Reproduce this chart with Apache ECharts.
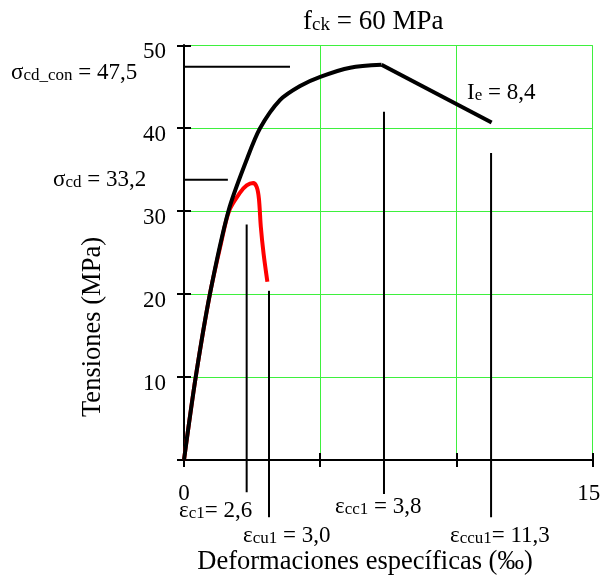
<!DOCTYPE html>
<html>
<head>
<meta charset="utf-8">
<script src="https://cdn.jsdelivr.net/npm/echarts@6/dist/echarts.min.js"></script>
<style>
  html, body { margin: 0; padding: 0; background: #fff; }
  #container { width: 601px; height: 576px; }
</style>
</head>
<body>
<div id="container"></div>
<script>
// curves: [strain ‰, stress MPa]
var confinedCurve = [[0, 0], [0.43, 10], [0.95, 20], [1.63, 30], [2.3, 36.2], [2.79, 40], [3.52, 43.4], [4.26, 45.1], [5, 46.2], [6.1, 47.3], [7.25, 47.65]];
var confinedBranch = [[7.25, 47.65], [11.29, 40.7]];
var plainCurve = [[0, 0], [0.43, 10], [0.95, 20], [1.35, 26], [1.65, 30], [2.05, 32.2], [2.3, 33.1], [2.54, 33.4], [2.67, 32.9], [2.75, 31.5], [2.82, 28.1], [2.92, 24.9], [3.06, 21.5]];

// vertical marker lines (strain) and horizontal marker lines (stress)
var strainMarks = [2.3, 3.12, 7.34, 11.27];
var strainMarkTop = [28.4, 20.4, 42.0, 37.0];
var strainMarkBottom = [-3.9, -6.9, -4.1, -6.9];
var stressMarks = [47.4, 33.8];
var stressMarkFrom = [-0.67, -0.77];
var stressMarkTo = [3.89, 1.61];

var xLabelsShown = [0, 15];
var yLabelsShown = [10, 20, 30, 40, 50];

var serif = "Liberation Serif";
var green = "#3ef03e";

var dom = document.getElementById("container");
var myChart = echarts.init(dom);

function markSeries(points) {
  return {
    type: "line",
    data: points,
    symbol: "none",
    clip: false,
    silent: true,
    lineStyle: { color: "#000", width: 2 },
    z: 1,
  };
}

var series = [];
for (var i = 0; i < strainMarks.length; i++) {
  series.push(markSeries([[strainMarks[i], strainMarkTop[i]], [strainMarks[i], strainMarkBottom[i]]]));
}
for (var j = 0; j < stressMarks.length; j++) {
  series.push(markSeries([[stressMarkFrom[j], stressMarks[j]], [stressMarkTo[j], stressMarks[j]]]));
}
series.push({
  type: "line",
  data: plainCurve,
  symbol: "none",
  smooth: 0.3,
  lineStyle: { color: "#ff0000", width: 4 },
  z: 3,
});
series.push({
  type: "line",
  data: confinedCurve,
  symbol: "none",
  smooth: 0.3,
  lineStyle: { color: "#000", width: 4 },
  z: 4,
});
series.push({
  type: "line",
  data: confinedBranch,
  symbol: "none",
  lineStyle: { color: "#000", width: 4 },
  z: 4,
});

var axisCommon = {
  type: "value",
  interval: 5,
  min: 0,
  max: 15,
  axisLine: { show: true, lineStyle: { color: "#000", width: 2 } },
};

var richStyle = {
  m: { fontFamily: serif, fontSize: 23, lineHeight: 26, verticalAlign: "bottom", fill: "#000" },
  s: { fontFamily: serif, fontSize: 17, lineHeight: 17, verticalAlign: "bottom", fill: "#000" },
  t: { fontFamily: serif, fontSize: 27, lineHeight: 30, verticalAlign: "bottom", fill: "#000" },
  ts: { fontFamily: serif, fontSize: 19, lineHeight: 19, verticalAlign: "bottom", fill: "#000" },
};

function label(x, y, text) {
  return {
    type: "text",
    x: x,
    y: y,
    z: 10,
    style: {
      text: text,
      rich: richStyle,
      textAlign: "left",
      textVerticalAlign: "top",
    },
  };
}

option = {
  animation: false,
  grid: { left: 184, right: 8.3, top: 45.3, bottom: 116, outerBoundsMode: "none", containLabel: false },
  xAxis: [
    Object.assign({}, axisCommon, {
      position: "bottom",
      axisTick: { show: true, inside: false, length: 7, lineStyle: { color: "#000", width: 2 } },
      splitLine: { show: true, lineStyle: { color: green, width: 1 } },
      axisLabel: {
        margin: 22,
        showMaxLabel: true,
        showMinLabel: true,
        formatter: function (v) {
          if (xLabelsShown.indexOf(v) < 0) return "";
          return v === 15 ? "{r|" + v + "}" : "{n|" + v + "}";
        },
        rich: {
          n: { fontFamily: serif, fontSize: 23, color: "#000" },
          r: { fontFamily: serif, fontSize: 23, color: "#000", padding: [0, 8, 0, 0] },
        },
      },
    }),
    Object.assign({}, axisCommon, {
      position: "bottom",
      axisTick: { show: true, inside: true, length: 7, lineStyle: { color: "#000", width: 2 } },
      splitLine: { show: false },
      axisLabel: { show: false },
    }),
  ],
  yAxis: [
    Object.assign({}, axisCommon, {
      position: "left",
      interval: 10,
      max: 50,
      axisTick: { show: true, inside: false, length: 7, lineStyle: { color: "#000", width: 2 } },
      splitLine: { show: true, lineStyle: { color: green, width: 1 } },
      axisLabel: {
        margin: 18,
        fontFamily: serif,
        fontSize: 23,
        color: "#000",
        lineHeight: 13,
        formatter: function (v) {
          return yLabelsShown.indexOf(v) >= 0 ? "\n" + v : "";
        },
      },
    }),
    Object.assign({}, axisCommon, {
      position: "left",
      interval: 10,
      max: 50,
      axisTick: { show: true, inside: true, length: 7, lineStyle: { color: "#000", width: 2 } },
      splitLine: { show: false },
      axisLabel: { show: false },
    }),
  ],
  graphic: [
    label(303, 5, "{t|f}{ts|ck}{t| = 60 MPa}"),
    label(11, 58, "{m|σ}{s|cd_con}{m| = 47,5}"),
    label(53, 165, "{m|σ}{s|cd}{m| = 33,2}"),
    label(467, 78, "{m|I}{s|e}{m| = 8,4}"),
    label(179, 496, "{m|ε}{s|c1}{m|= 2,6}"),
    label(243, 521, "{m|ε}{s|cu1}{m| = 3,0}"),
    label(335, 492, "{m|ε}{s|cc1}{m| = 3,8}"),
    label(450, 521, "{m|ε}{s|ccu1}{m|= 11,3}"),
    {
      type: "text",
      x: 93,
      y: 327,
      rotation: Math.PI / 2,
      style: {
        text: "Tensiones (MPa)",
        fontFamily: serif,
        fontSize: 26.5,
        fill: "#000",
        textAlign: "center",
        textVerticalAlign: "middle",
      },
    },
    {
      type: "text",
      x: 365,
      y: 562,
      style: {
        text: "Deformaciones específicas (‰)",
        fontFamily: serif,
        fontSize: 26.5,
        fill: "#000",
        textAlign: "center",
        textVerticalAlign: "middle",
      },
    },
  ],
  series: series,
};

if (option && typeof option === "object") {
  myChart.setOption(option, true);
}
</script>
</body>
</html>
